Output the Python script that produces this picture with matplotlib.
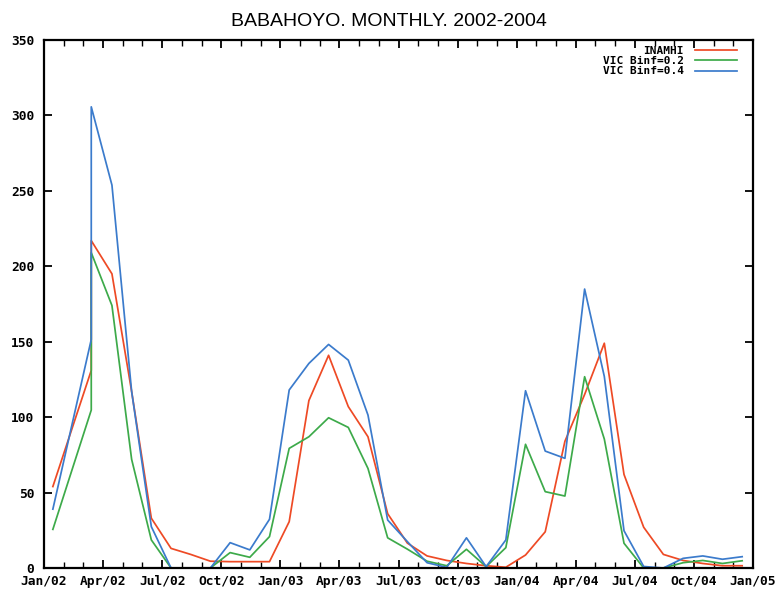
import matplotlib
matplotlib.use("Agg")
import matplotlib.pyplot as plt
from matplotlib.ticker import MultipleLocator

# ---- data ----
# x positions in months since Jan/2002 (points near mid-month; Feb/02 plotted at Mar position)
month_pos = [0.45, 2.4, 2.4] + [k + 0.45 for k in range(3, 36)]

inamhi = [54, 131, 217, 195, 117, 33, 13, 9, 4.5, 4.2, 4.2, 4.2,
          30.7, 111, 141, 107, 87, 36, 16.5, 8, 5, 3, 1.5, 0.5,
          8.6, 24, 84, 115, 149, 62, 27, 9, 5, 3, 1.5, 1.5]
vic_b02 = [25.6, 104.7, 209, 174, 72, 18.6, 0, 0, 0, 10.2, 7.1, 20.8,
           79.3, 87, 99.6, 93.2, 66, 20, 12.5, 4.5, 1.5, 12.4, 0.9, 13.5,
           82, 50.6, 47.7, 126.8, 85.5, 16.4, 0, 0, 3.5, 5, 3, 4.8]
vic_b04 = [39, 151.5, 305.7, 253.8, 117, 27.4, 0, 0, 0, 16.8, 12, 32.3,
           118, 135.6, 148.2, 137.8, 101.4, 31.8, 17.5, 3.5, 0.4, 20, 0.9, 18.6,
           117.5, 77.5, 72.7, 184.9, 127, 24.7, 1, 0, 6.4, 8, 5.8, 7.5]

series_labels = ["INAMHI", "VIC Binf=0.2", "VIC Binf=0.4"]
series_colors = ["#ee4a25", "#3daa4a", "#3b7bcc"]

xtick_pos = list(range(0, 37, 3))
xtick_labels = ["Jan/02", "Apr/02", "Jul/02", "Oct/02",
                "Jan/03", "Apr/03", "Jul/03", "Oct/03",
                "Jan/04", "Apr/04", "Jul/04", "Oct/04", "Jan/05"]
yticks = list(range(0, 351, 50))
title = "BABAHOYO. MONTHLY. 2002-2004"

# ---- figure ----
W, H = 777, 589
fig = plt.figure(figsize=(W / 100, H / 100), dpi=100)
ax = fig.add_axes([44 / W, 1 - 568 / H, (753 - 44) / W, (568 - 40) / H])

for vals, lab, col in zip([inamhi, vic_b02, vic_b04], series_labels, series_colors):
    ax.plot(month_pos, vals, color=col, lw=1.25, label=lab)

ax.set_xlim(0, 36)
ax.set_ylim(0, 350)

mono = ["DejaVu Sans Mono"]
ax.set_xticks(xtick_pos)
ax.set_xticklabels(xtick_labels, family=mono, fontsize=9.3, fontweight="bold")
ax.xaxis.set_minor_locator(MultipleLocator(1))
ax.set_yticks(yticks)
ax.set_yticklabels([str(v) for v in yticks], family=mono, fontsize=9.3, fontweight="bold")

ax.tick_params(axis="both", which="major", direction="in", length=6, width=1.3,
               top=True, right=True, labelright=False, labeltop=False)
ax.tick_params(axis="both", which="minor", direction="in", length=4, width=1.0,
               top=True, right=True)
ax.tick_params(axis="x", which="major", pad=5)
ax.tick_params(axis="y", which="major", pad=7)

for sp in ax.spines.values():
    sp.set_linewidth(1.6)
    sp.set_color("black")

leg = ax.legend(loc="upper right", frameon=False, markerfirst=False,
                prop={"family": "DejaVu Sans Mono", "size": 8, "weight": "bold"},
                handlelength=3.8, handletextpad=1.0, labelspacing=0.02,
                borderpad=0, borderaxespad=0,
                bbox_to_anchor=((737 - 44) / 709, 1 - 6 / 528))

fig.text(0.5, 1 - 22 / H, title, ha="center", va="center",
         family=["Liberation Sans", "DejaVu Sans"], fontsize=14)

fig.savefig("out.png", dpi=100, facecolor="white")
